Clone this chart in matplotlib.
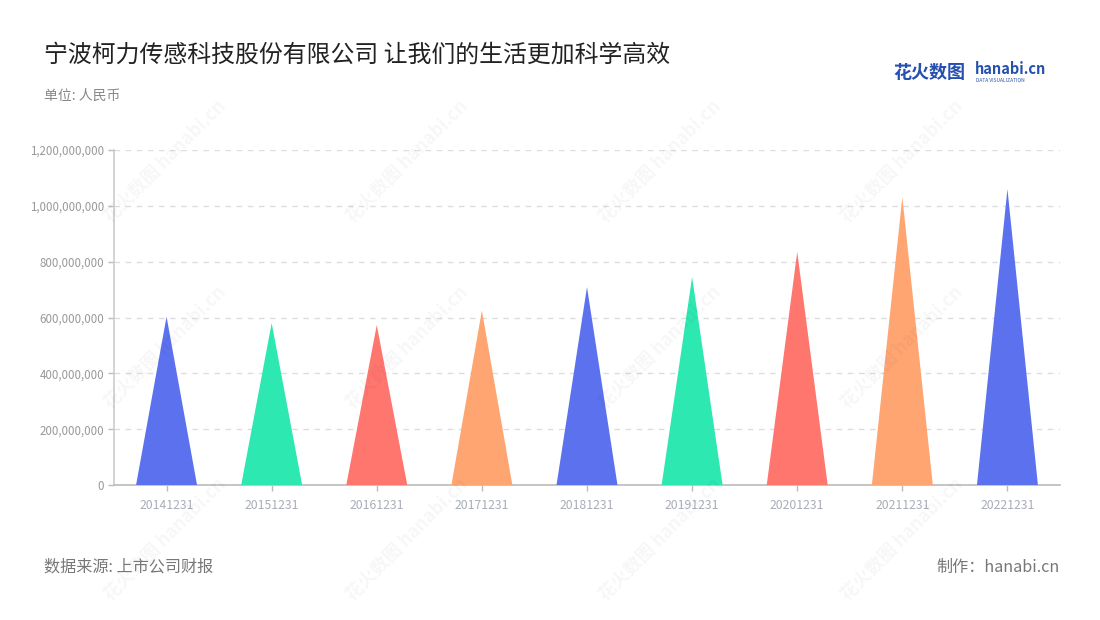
import numpy as np
import matplotlib
matplotlib.use("Agg")
import matplotlib.pyplot as plt
from matplotlib.ticker import FuncFormatter

plt.rcParams['font.family'] = ['Noto Sans CJK SC', 'DejaVu Sans']

dates = ['20141231', '20151231', '20161231', '20171231', '20181231',
         '20191231', '20201231', '20211231', '20221231']
values = [603e6, 580e6, 573e6, 625e6, 709e6, 745e6, 835e6, 1031e6, 1060e6]
palette = ['#5B71EE', '#2EE8B1', '#FF766F', '#FFA572']

fig = plt.figure(figsize=(11, 6.2), dpi=100)
ax = fig.add_axes([114 / 1100, 1 - 485 / 620, 946 / 1100, 335 / 620])

half = 0.29
for i, v in enumerate(values):
    ax.fill([i - half, i, i + half], [0, v, 0], color=palette[i % 4],
            lw=0, zorder=3)

ax.set_xlim(-0.5, len(dates) - 0.5)
ax.set_ylim(0, 1.2e9)
ax.set_yticks(np.arange(0, 1.2e9 + 1, 2e8))
ax.yaxis.set_major_formatter(FuncFormatter(lambda v, p: f'{int(v):,}'))
ax.set_xticks(range(len(dates)))
ax.set_xticklabels(dates)
ax.tick_params(axis='both', colors='#bbbbbb', labelcolor='#999999',
               labelsize=8.3, length=4, width=1)
ax.tick_params(axis='x', pad=6, labelsize=8.8)
ax.tick_params(axis='y', pad=3)
for lab in ax.get_xticklabels():
    lab.set_color('#a8adb8')

for y in np.arange(2e8, 1.2e9 + 1, 2e8):
    ax.axhline(y, color='#dddddd', lw=1, ls=(0, (4, 4)), zorder=1)

for s in ['top', 'right']:
    ax.spines[s].set_visible(False)
ax.spines['left'].set_color('#cccccc')
ax.spines['bottom'].set_color('#bbbbbb')
ax.spines['left'].set_linewidth(1.2)
ax.spines['bottom'].set_linewidth(1.2)

# watermarks
for wx in [0.15, 0.37, 0.6, 0.82]:
    for wy in [0.74, 0.44, 0.13]:
        fig.text(wx, wy, '花火数图 hanabi.cn', rotation=45, fontsize=13,
                 color='#000000', alpha=0.035, ha='center', va='center',
                 fontweight='bold', zorder=0)

fig.text(44 / 1100, 1 - 55 / 620, '宁波柯力传感科技股份有限公司 让我们的生活更加科学高效',
         fontsize=17.2, color='#222222', va='center')
fig.text(44 / 1100, 1 - 96 / 620, '单位: 人民币', fontsize=10,
         color='#888888', va='center')
fig.text(44 / 1100, 1 - 567 / 620, '数据来源: 上市公司财报', fontsize=11.6,
         color='#777777', va='center')
fig.text(1060 / 1100, 1 - 567 / 620, '制作：hanabi.cn', fontsize=11.6,
         color='#777777', va='center', ha='right')

# logo
fig.text(893 / 1100, 1 - 72 / 620, '花火数图', fontsize=13, color='#2650b0',
         va='center', fontweight='bold')
fig.text(975 / 1100, 1 - 69 / 620, 'hanabi.cn', fontsize=10.5, color='#2650b0',
         va='center', fontweight='bold')
fig.text(976 / 1100, 1 - 80 / 620, 'DATA VISUALIZATION', fontsize=3.5,
         color='#2650b0', va='center')

fig.savefig('out.png', dpi=100, facecolor='white')
